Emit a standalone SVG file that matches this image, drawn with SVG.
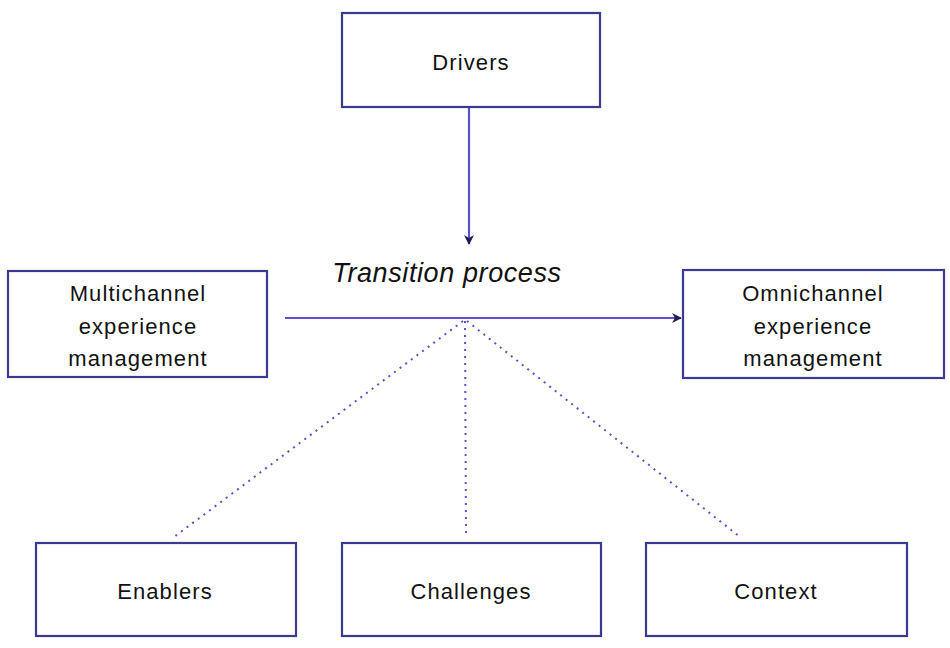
<svg xmlns="http://www.w3.org/2000/svg" width="950" height="648" viewBox="0 0 950 648">
<defs>
<marker id="ah" viewBox="0 0 10 10" refX="9" refY="5" markerWidth="10" markerHeight="10" markerUnits="userSpaceOnUse" orient="auto">
<path d="M0,0 L10,5 L0,10 L3,5 Z" fill="#1e1e50"/>
</marker>
<style>
.box{fill:#ffffff;stroke:#3a3a90;stroke-width:2.2}
.lbl{font-family:"Liberation Sans",Arial,sans-serif;font-size:22px;fill:#111111;text-anchor:middle;letter-spacing:1.1px}
.dot{fill:none;stroke:#5a50d0;stroke-width:2;stroke-dasharray:2 5}
.ln{fill:none;stroke:#5a50d0;stroke-width:2.2}
</style>
</defs>
<rect width="950" height="648" fill="#ffffff"/>
<g id="connectors">
<line class="ln" x1="469" y1="107" x2="469" y2="244" marker-end="url(#ah)"/>
<line class="ln" x1="285" y1="318" x2="681" y2="318" marker-end="url(#ah)"/>
<line class="dot" x1="463" y1="321" x2="174" y2="537"/>
<line class="dot" x1="465" y1="321" x2="466" y2="537"/>
<line class="dot" x1="467" y1="321" x2="740" y2="537"/>
</g>
<g id="drivers">
<rect class="box" x="342" y="13" width="258" height="94"/>
<text class="lbl" x="471" y="70">Drivers</text>
</g>
<g id="transition">
<text x="447" y="282" font-family="'Liberation Sans',Arial,sans-serif" font-size="27" font-style="italic" letter-spacing="0.6" fill="#111111" text-anchor="middle">Transition process</text>
</g>
<g id="multichannel">
<rect class="box" x="8" y="271" width="259" height="106"/>
<text class="lbl" x="138" y="301">Multichannel</text>
<text class="lbl" x="138" y="334">experience</text>
<text class="lbl" x="138" y="366">management</text>
</g>
<g id="omnichannel">
<rect class="box" x="683" y="270" width="261" height="108"/>
<text class="lbl" x="813" y="301">Omnichannel</text>
<text class="lbl" x="813" y="334">experience</text>
<text class="lbl" x="813" y="366">management</text>
</g>
<g id="enablers">
<rect class="box" x="36" y="543" width="260" height="93"/>
<text class="lbl" x="165" y="599">Enablers</text>
</g>
<g id="challenges">
<rect class="box" x="342" y="543" width="259" height="93"/>
<text class="lbl" x="471" y="599">Challenges</text>
</g>
<g id="context">
<rect class="box" x="646" y="543" width="261" height="93"/>
<text class="lbl" x="776" y="599">Context</text>
</g>
</svg>
